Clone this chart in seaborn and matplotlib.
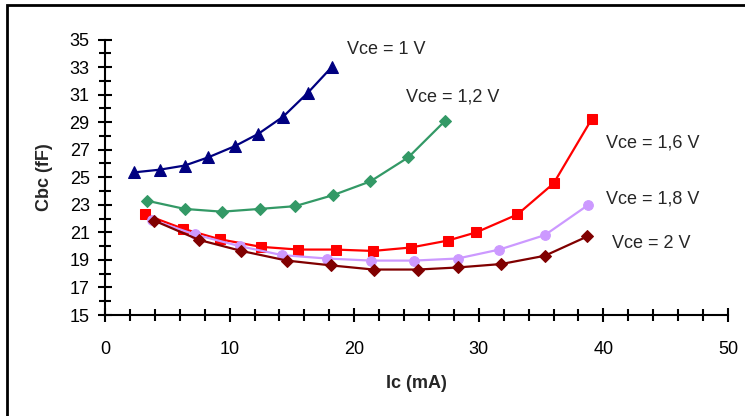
import numpy as np
import pandas as pd
import matplotlib
matplotlib.use("Agg")
import matplotlib.pyplot as plt
from matplotlib.patches import Rectangle
from matplotlib.ticker import MultipleLocator, FixedLocator
import seaborn as sns

sns.set_theme(style="white")
plt.rcParams['font.family'] = ['Liberation Sans', 'DejaVu Sans']

# data (Ic in mA, Cbc in fF)
ic_1v = [2.3, 4.4, 6.4, 8.3, 10.4, 12.3, 14.3, 16.3, 18.2]
cbc_1v = [25.35, 25.55, 25.85, 26.45, 27.25, 28.15, 29.4, 31.15, 33.0]

ic_12v = [3.35, 6.4, 9.4, 12.4, 15.25, 18.3, 21.3, 24.35, 27.3]
cbc_12v = [23.3, 22.7, 22.5, 22.7, 22.9, 23.7, 24.7, 26.45, 29.1]

ic_16v = [3.2, 6.3, 9.2, 12.5, 15.5, 18.5, 21.5, 24.55, 27.5, 29.8, 33.1, 36.0, 39.05]
cbc_16v = [22.3, 21.25, 20.5, 19.95, 19.75, 19.75, 19.65, 19.9, 20.4, 21.0, 22.3, 24.55, 29.2]

ic_18v = [3.8, 7.2, 10.8, 14.2, 17.8, 21.35, 24.8, 28.3, 31.65, 35.3, 38.8]
cbc_18v = [21.9, 20.85, 20.0, 19.35, 19.1, 18.95, 18.95, 19.1, 19.75, 20.8, 23.0]

ic_2v = [3.95, 7.55, 10.95, 14.6, 18.15, 21.55, 25.1, 28.3, 31.8, 35.3, 38.7]
cbc_2v = [21.85, 20.45, 19.65, 18.95, 18.6, 18.3, 18.3, 18.45, 18.7, 19.3, 20.7]

y_ticks = [15, 17, 19, 21, 23, 25, 27, 29, 31, 33, 35]

labels = ["Vce = 1 V", "Vce = 1,2 V", "Vce = 1,6 V", "Vce = 1,8 V", "Vce = 2 V"]
label_pos = [(19.4, 34.25), (24.15, 30.8), (40.2, 27.5), (40.2, 23.4), (40.7, 20.2)]

series = [
    (ic_1v, cbc_1v, "#000080", "^", 8),
    (ic_12v, cbc_12v, "#339966", "D", 6),
    (ic_16v, cbc_16v, "#FF0000", "s", 7),
    (ic_18v, cbc_18v, "#CC99FF", "o", 7),
    (ic_2v, cbc_2v, "#800000", "D", 6.5),
]

fig = plt.figure(figsize=(7.45, 4.16), dpi=100)
ax = fig.add_axes([105 / 745, 1 - 315 / 416, 623 / 745, 275.5 / 416])

for x, y, color, marker, ms in series:
    df = pd.DataFrame({"ic": x, "cbc": y})
    sns.lineplot(data=df, x="ic", y="cbc", ax=ax, color=color, marker=marker,
                 markersize=ms, markeredgecolor=color, linewidth=1.6,
                 estimator=None, sort=False, legend=False)

for text, (tx, ty) in zip(labels, label_pos):
    ax.text(tx, ty, text, fontsize=13, va="center", ha="left", clip_on=False)

ax.set_xlim(0, 50)
ax.set_ylim(15, 35)
ax.xaxis.set_major_locator(MultipleLocator(10))
ax.xaxis.set_minor_locator(MultipleLocator(2))
ax.yaxis.set_major_locator(FixedLocator(y_ticks))
ax.yaxis.set_minor_locator(MultipleLocator(1))
ax.tick_params(which="both", direction="inout", color="black", width=1.5,
               labelsize=13, labelcolor="black", bottom=True, left=True)
ax.tick_params(which="major", length=10)
ax.tick_params(which="minor", length=8)
ax.tick_params(axis="x", which="major", pad=14)
ax.tick_params(axis="y", which="major", pad=6)

for side in ["top", "right"]:
    ax.spines[side].set_visible(False)
for side in ["left", "bottom"]:
    ax.spines[side].set_color("black")
    ax.spines[side].set_linewidth(1.5)

ax.set_xlabel("Ic (mA)", fontsize=13, fontweight="bold", labelpad=12)
ax.set_ylabel("Cbc (fF)", fontsize=13, fontweight="bold", labelpad=12)

# outer chart border (extends past right and bottom edges)
fig.patches.append(Rectangle((7 / 745, -0.1), 1.2, 1 - 5 / 416 + 0.1,
                             transform=fig.transFigure, fill=False,
                             edgecolor="black", linewidth=2))

fig.savefig("out.png", dpi=100)
